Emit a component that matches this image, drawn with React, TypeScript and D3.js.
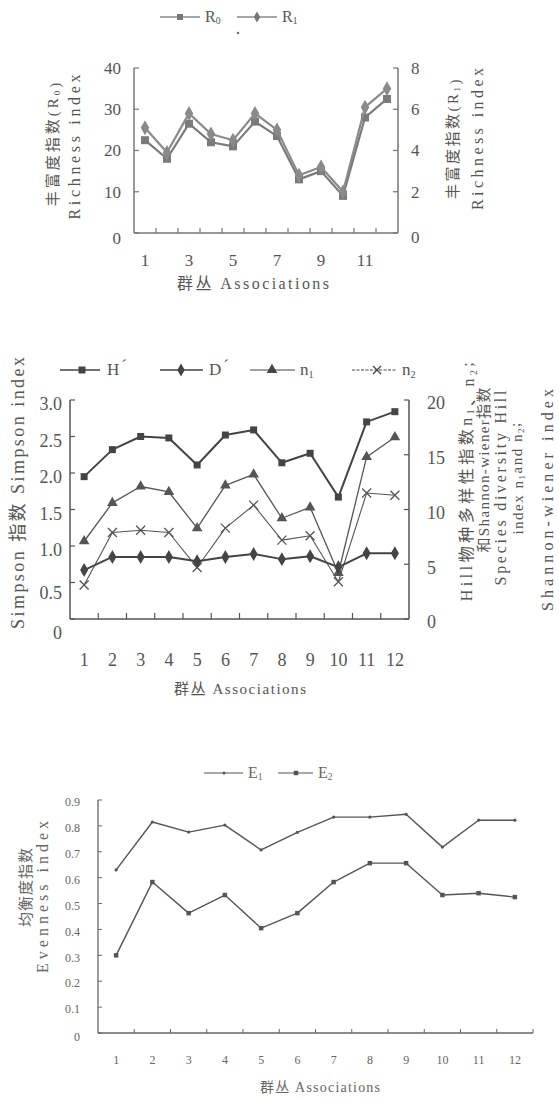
import React from "react";
import * as d3 from "d3";

// ---------- data ----------
const cats = [1, 2, 3, 4, 5, 6, 7, 8, 9, 10, 11, 12];

// chart 1: richness
const R0 = [22.5, 18, 26.5, 22, 21, 27, 23.5, 13, 15, 9, 28, 32.5];
const R1 = [5.1, 3.9, 5.8, 4.8, 4.5, 5.8, 5.0, 2.8, 3.2, 2.0, 6.1, 7.0];
const r0Ticks = [0, 10, 20, 30, 40];
const r1Ticks = [0, 2, 4, 6, 8];
const c1XLabels = [1, 3, 5, 7, 9, 11];

// chart 2: diversity
const Hp = [1.95, 2.32, 2.5, 2.48, 2.11, 2.52, 2.59, 2.14, 2.27, 1.67, 2.7, 2.84];
const Dp = [0.67, 0.85, 0.85, 0.85, 0.79, 0.85, 0.89, 0.82, 0.86, 0.71, 0.9, 0.9];
const n1 = [7.1, 10.6, 12.1, 11.6, 8.3, 12.2, 13.2, 9.2, 10.2, 4.2, 14.8, 16.6];
const n2 = [3.1, 7.9, 8.1, 7.9, 4.7, 8.3, 10.4, 7.2, 7.6, 3.4, 11.5, 11.3];
const simpTicks = [0, 0.5, 1.0, 1.5, 2.0, 2.5, 3.0];
const hillTicks = [0, 5, 10, 15, 20];

// chart 3: evenness
const E1 = [0.63, 0.815, 0.776, 0.803, 0.707, 0.775, 0.834, 0.834, 0.845, 0.718, 0.822, 0.822];
const E2 = [0.3, 0.583, 0.463, 0.533, 0.405, 0.463, 0.583, 0.656, 0.656, 0.533, 0.54, 0.525];
const evenTicks = [0, 0.1, 0.2, 0.3, 0.4, 0.5, 0.6, 0.7, 0.8, 0.9];

const FONT = "'Liberation Serif', 'DejaVu Serif', 'Times New Roman', Times, 'Noto Sans CJK SC', serif";
const CJK = "'Noto Sans CJK SC', sans-serif";
const TXT = "#555";

type Shape = "square" | "diamond" | "triangle" | "x" | "dot";
function marker(shape: Shape, cx: number, cy: number, size: number, color: string, key?: any) {
  if (shape === "x") {
    const s = size / 2;
    return (
      <path key={key} d={`M${cx - s},${cy - s}L${cx + s},${cy + s}M${cx - s},${cy + s}L${cx + s},${cy - s}`}
        stroke={color} strokeWidth={1.3} fill="none" />
    );
  }
  if (shape === "dot") return <circle key={key} cx={cx} cy={cy} r={size / 2} fill={color} />;
  const type = shape === "square" ? d3.symbolSquare : shape === "diamond" ? d3.symbolDiamond : d3.symbolTriangle;
  const d = d3.symbol().type(type).size(size * size)()!;
  return <path key={key} d={d} transform={`translate(${cx},${cy})`} fill={color} />;
}

function Series({ vals, x, y, color, width, shape, size }: any) {
  const bw = x.bandwidth();
  const line = d3.line<number>().x((_, i) => x(cats[i])! + bw / 2).y((d) => y(d));
  return (
    <g>
      <path d={line(vals)!} fill="none" stroke={color} strokeWidth={width} strokeLinejoin="round" />
      {vals.map((v: number, i: number) => marker(shape, x(cats[i])! + bw / 2, y(v), size, color, i))}
    </g>
  );
}

function VText({ x, y, size, len, ls, children, color = TXT, family = FONT }: any) {
  return (
    <text transform={`translate(${x},${y}) rotate(-90)`} textAnchor="middle" fontSize={size} fill={color}
      textLength={len} lengthAdjust={len ? "spacing" : undefined} letterSpacing={ls} fontFamily={family}>
      {children}
    </text>
  );
}

const Sub = ({ children }: any) => (
  <tspan fontSize="0.6em" dy="0.25em">{children}</tspan>
);
const Up = ({ children }: any) => (
  <tspan dy="-0.25em">{children}</tspan>
);

function Chart1() {
  const x = d3.scaleBand<number>().domain(cats).range([134, 398]);
  const yL = d3.scaleLinear().domain([0, 40]).range([233, 68]);
  const yR = d3.scaleLinear().domain([0, 8]).range([233, 68]);
  const bw = x.bandwidth();
  const ax = "#777";
  return (
    <g fontFamily={FONT} fill={TXT}>
      {/* legend */}
      <line x1={160} x2={200} y1={17} y2={17} stroke="#888" strokeWidth={1.5} />
      {marker("square", 180, 17, 6, "#777")}
      <text x={205} y={22} fontSize={16}>R<Sub>0</Sub></text>
      <line x1={237} x2={277} y1={17} y2={17} stroke="#888" strokeWidth={1.5} />
      {marker("diamond", 257, 17, 6, "#777")}
      <text x={282} y={22} fontSize={16}>R<Sub>1</Sub></text>
      <circle cx={238} cy={33} r={1.2} fill="#666" />
      {/* axes */}
      <line x1={134} x2={134} y1={68} y2={233} stroke={ax} strokeWidth={1.5} />
      <line x1={398} x2={398} y1={68} y2={233} stroke={ax} strokeWidth={1.5} />
      <line x1={134} x2={398} y1={233} y2={233} stroke={ax} strokeWidth={1.5} />
      {r0Ticks.map((t) => (
        <g key={"l" + t}>
          <line x1={134} x2={139} y1={yL(t)} y2={yL(t)} stroke={ax} strokeWidth={1.2} />
          <text x={121} y={yL(t) + (t === 0 ? 5 : 0)} dy="0.35em" textAnchor="end" fontSize={17}>{t}</text>
        </g>
      ))}
      {r1Ticks.map((t) => (
        <g key={"r" + t}>
          <line x1={393} x2={398} y1={yR(t)} y2={yR(t)} stroke={ax} strokeWidth={1.2} />
          <text x={411} y={yR(t) + (t === 0 ? 4 : 0)} dy="0.35em" textAnchor="start" fontSize={17}>{t}</text>
        </g>
      ))}
      {cats.slice(1).map((c) => (
        <line key={c} x1={x(c)!} x2={x(c)!} y1={233} y2={228} stroke={ax} strokeWidth={1.2} />
      ))}
      {c1XLabels.map((c) => (
        <text key={c} x={x(c)! + bw / 2} y={266} textAnchor="middle" fontSize={17}>{c}</text>
      ))}
      <text x={253} y={289} textAnchor="middle" fontSize={16} textLength={152} lengthAdjust="spacing">群丛 Associations</text>
      {/* axis titles */}
      <VText x={58} y={143} size={15} ls={3}>丰富度指数(R<Sub>0</Sub>)</VText>
      <VText x={80} y={147} size={16} len={145}>Richness index</VText>
      <VText x={458} y={138} size={15} ls={2.5}>丰富度指数(R<Sub>1</Sub>)</VText>
      <VText x={483} y={139} size={16} len={142}>Richness index</VText>
      {/* series */}
      <Series vals={R0} x={x} y={yL} color="#7a7a7a" width={2.2} shape="square" size={8} />
      <Series vals={R1} x={x} y={yR} color="#8a8a8a" width={2.2} shape="diamond" size={8} />
    </g>
  );
}

function Chart2() {
  const x = d3.scaleBand<number>().domain(cats).range([70, 409]);
  const yL = d3.scaleLinear().domain([0, 3]).range([619, 400]);
  const yR = d3.scaleLinear().domain([0, 20]).range([619, 400]);
  const bw = x.bandwidth();
  const ax = "#555";
  const col = "#444";
  return (
    <g fontFamily={FONT} fill={TXT}>
      {/* legend */}
      <line x1={60} x2={100} y1={370} y2={370} stroke={col} strokeWidth={1.5} />
      {marker("square", 82, 370, 7, col)}
      <text x={107} y={375} fontSize={17}>H<tspan dx={2} dy={-4}>´</tspan></text>
      <line x1={160} x2={203} y1={370} y2={370} stroke={col} strokeWidth={1.5} />
      {marker("diamond", 181, 370, 7, col)}
      <text x={209} y={375} fontSize={17}>D<tspan dx={2} dy={-4}>´</tspan></text>
      <line x1={250} x2={295} y1={370} y2={370} stroke={col} strokeWidth={1.2} />
      {marker("triangle", 272, 370, 7, col)}
      <text x={300} y={375} fontSize={17}>n<Sub>1</Sub></text>
      <line x1={352} x2={397} y1={370} y2={370} stroke={col} strokeWidth={1} strokeDasharray="3,1.5" />
      {marker("x", 377, 370, 8, col)}
      <text x={402} y={375} fontSize={17}>n<Sub>2</Sub></text>
      {/* axes */}
      <line x1={70} x2={70} y1={400} y2={619} stroke={ax} strokeWidth={1.5} />
      <line x1={409} x2={409} y1={400} y2={619} stroke={ax} strokeWidth={1.5} />
      <line x1={70} x2={409} y1={619} y2={619} stroke={ax} strokeWidth={1.5} />
      {simpTicks.map((t) => (
        <g key={"l" + t}>
          <line x1={70} x2={75} y1={yL(t)} y2={yL(t)} stroke={ax} strokeWidth={1.2} />
          <text x={62} y={yL(t) + (t === 0 ? 14 : t === 0.5 ? 10 : 4)} dy="0.35em" textAnchor="end" fontSize={18}>
            {t === 0 ? "0" : d3.format(".1f")(t)}
          </text>
        </g>
      ))}
      {hillTicks.map((t) => (
        <g key={"r" + t}>
          <line x1={404} x2={409} y1={yR(t)} y2={yR(t)} stroke={ax} strokeWidth={1.2} />
          <text x={427} y={yR(t) + 3} dy="0.35em" textAnchor="start" fontSize={18}>{t}</text>
        </g>
      ))}
      {cats.slice(1).map((c) => (
        <line key={c} x1={x(c)!} x2={x(c)!} y1={619} y2={613} stroke={ax} strokeWidth={1.2} />
      ))}
      {cats.map((c) => (
        <text key={c} x={x(c)! + bw / 2} y={666} textAnchor="middle" fontSize={18}>{c}</text>
      ))}
      <text x={240} y={694} textAnchor="middle" fontSize={15} textLength={132} lengthAdjust="spacing">群丛 Associations</text>
      {/* axis titles */}
      <VText x={24} y={493} size={18} len={272}>Simpson 指数 Simpson index</VText>
      <VText x={472} y={480} size={16} ls={3.5}>Hill物种多样性指数n<Sub>1</Sub>、n<Sub>2</Sub><Up>;</Up></VText>
      <VText x={489} y={470} size={15} len={165}>和Shannon-wiener指数</VText>
      <VText x={506} y={488} size={16} len={195}>Species diversity Hill</VText>
      <VText x={523} y={478} size={15} ls={1.5}>index n<Sub>1</Sub><Up>and n</Up><Sub>2</Sub><Up>;</Up></VText>
      <VText x={553} y={500} size={16} len={222}>Shannon-wiener index</VText>
      {/* series */}
      <Series vals={n2} x={x} y={yR} color="#555" width={1.1} shape="x" size={9} />
      <Series vals={n1} x={x} y={yR} color="#555" width={1.3} shape="triangle" size={7} />
      <Series vals={Dp} x={x} y={yL} color="#444" width={2} shape="diamond" size={7.5} />
      <Series vals={Hp} x={x} y={yL} color="#444" width={2} shape="square" size={7} />
    </g>
  );
}

function Chart3() {
  const x = d3.scaleBand<number>().domain(cats).range([98, 533]);
  const y = d3.scaleLinear().domain([0, 0.9]).range([1033, 800]);
  const bw = x.bandwidth();
  const ax = "#666";
  const col = "#555";
  return (
    <g fontFamily={FONT} fill="#666">
      {/* legend */}
      <line x1={204} x2={243} y1={773} y2={773} stroke={col} strokeWidth={1.2} />
      {marker("dot", 224, 773, 3, col)}
      <text x={248} y={778} fontSize={16}>E<Sub>1</Sub></text>
      <line x1={278} x2={313} y1={773} y2={773} stroke={col} strokeWidth={1.2} />
      {marker("square", 296, 773, 4.5, col)}
      <text x={318} y={778} fontSize={16}>E<Sub>2</Sub></text>
      {/* axes */}
      <line x1={98} x2={98} y1={800} y2={1033} stroke={ax} strokeWidth={1.3} />
      <line x1={98} x2={533} y1={1033} y2={1033} stroke={ax} strokeWidth={1.3} />
      {evenTicks.map((t) => (
        <g key={t}>
          <line x1={98} x2={102} y1={y(t)} y2={y(t)} stroke={ax} strokeWidth={1} />
          <text x={80} y={y(t) + (t === 0 ? 4 : 2)} dy="0.35em" textAnchor="end" fontSize={12}>
            {t === 0 ? "0" : d3.format(".1f")(t)}
          </text>
        </g>
      ))}
      {cats.map((c) => (
        <line key={c} x1={x(c)! + bw} x2={x(c)! + bw} y1={1033} y2={1029} stroke={ax} strokeWidth={1} />
      ))}
      {cats.map((c) => (
        <text key={c} x={x(c)! + bw / 2} y={1064} textAnchor="middle" fontSize={12}>{c}</text>
      ))}
      <text x={320} y={1092} textAnchor="middle" fontSize={14} textLength={120} lengthAdjust="spacing">群丛 Associations</text>
      {/* axis titles */}
      <VText x={31} y={887} size={15} ls={1} color="#666" family={CJK}>均衡度指数</VText>
      <VText x={48} y={897} size={16} len={152} color="#666">Evenness index</VText>
      {/* series */}
      <Series vals={E1} x={x} y={y} color={col} width={1.4} shape="dot" size={3.2} />
      <Series vals={E2} x={x} y={y} color={col} width={1.4} shape="square" size={4.5} />
    </g>
  );
}

export default function App() {
  return (
    <svg width={559} height={1100} style={{ position: "absolute", left: 0, top: 0, background: "#fff" }}>
      <rect width={559} height={1100} fill="#fff" />
      <Chart1 />
      <Chart2 />
      <Chart3 />
    </svg>
  );
}
